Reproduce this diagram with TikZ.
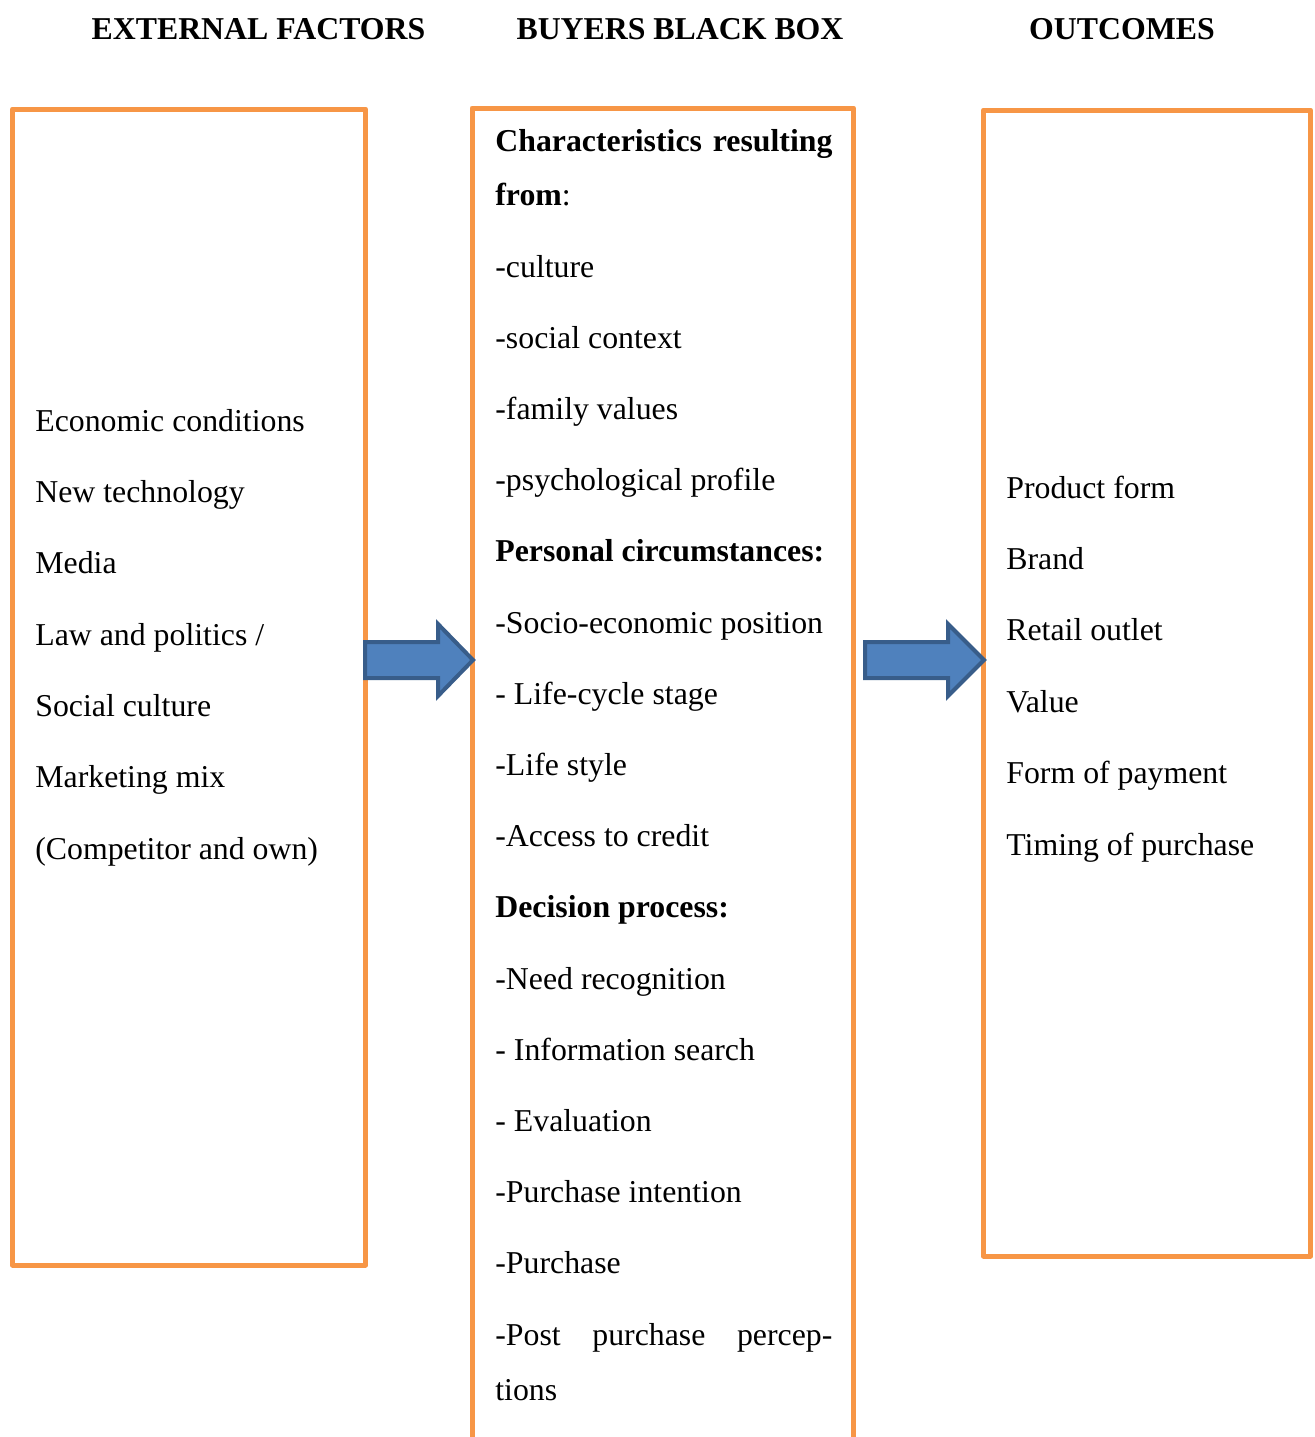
\documentclass[tikz,border=0pt]{standalone}
\usepackage{fontspec}
\setmainfont{Liberation Serif}
\definecolor{boxorange}{HTML}{F79646}
\definecolor{arrowfill}{HTML}{4F81BD}
\definecolor{arrowline}{HTML}{385D8A}
\begin{document}
\begin{tikzpicture}[x=0.5pt,y=-0.5pt,
  frame/.style={draw=boxorange,line width=2.5pt,line join=round},
  blockarrow/.style={fill=arrowfill,draw=arrowline,line width=2pt,line join=miter},
  txt/.style={anchor=base west,inner sep=0pt,font=\fontsize{15.9}{19}\selectfont},
  hdr/.style={anchor=base,inner sep=0pt,font=\fontsize{15.9}{19}\selectfont\bfseries}]
\useasboundingbox (0,0) rectangle (1315,1437);
% headers
\node[hdr] (h1) at (258.5,39) {EXTERNAL FACTORS};
\node[hdr] (h2) at (680,39) {BUYERS BLACK BOX};
\node[hdr] (h3) at (1122,39) {OUTCOMES};
% boxes
\draw[frame] (12.5,109) rectangle (365.5,1265);
\draw[frame] (472,1445) -- (472,108) -- (853.5,108) -- (853.5,1445);
\draw[frame] (983.5,110) rectangle (1310.5,1256);
% arrows
\draw[blockarrow] (365,642) -- (438,642) -- (438,624) -- (473,660) -- (438,696) -- (438,678) -- (365,678) -- cycle;
\draw[blockarrow] (865,642) -- (948,642) -- (948,624) -- (984,660) -- (948,696) -- (948,678) -- (865,678) -- cycle;
% left texts
\node[txt] (l1) at (35,431) {Economic conditions};
\node[txt] (l2) at (35,502.3) {New technology};
\node[txt] (l3) at (35,573.7) {Media};
\node[txt] (l4) at (35,645) {Law and politics /};
\node[txt] (l5) at (35,716.3) {Social culture};
\node[txt] (l6) at (35,787.7) {Marketing mix};
\node[txt] (l7) at (35,859) {(Competitor and own)};
% middle texts
\node[txt] (m1) at (495,151) {\hbox to 168.5pt{\bfseries Characteristics\hfill resulting}};
\node[txt] (m2) at (495,205) {\textbf{from}:};
\node[txt] (m3) at (495,277) {-culture};
\node[txt] (m4) at (495,348.2) {-social context};
\node[txt] (m5) at (495,419.4) {-family values};
\node[txt] (m6) at (495,490.6) {-psychological profile};
\node[txt] (m7) at (495,561.8) {\bfseries Personal circumstances:};
\node[txt] (m8) at (495,633) {-Socio-economic position};
\node[txt] (m9) at (495,704.2) {- Life-cycle stage};
\node[txt] (m10) at (495,775.4) {-Life style};
\node[txt] (m11) at (495,846.6) {-Access to credit};
\node[txt] (m12) at (495,917.8) {\bfseries Decision process:};
\node[txt] (m13) at (495,989) {-Need recognition};
\node[txt] (m14) at (495,1060.2) {- Information search};
\node[txt] (m15) at (495,1131.4) {- Evaluation};
\node[txt] (m16) at (495,1202.6) {-Purchase intention};
\node[txt] (m17) at (495,1273.8) {-Purchase};
\node[txt] (m18) at (495,1345) {\hbox to 168.5pt{-Post\hfill purchase\hfill percep-}};
\node[txt] (m19) at (495,1400) {tions};
% right texts
\node[txt] (r1) at (1006,498) {Product form};
\node[txt] (r2) at (1006,569.4) {Brand};
\node[txt] (r3) at (1006,640.8) {Retail outlet};
\node[txt] (r4) at (1006,712.2) {Value};
\node[txt] (r5) at (1006,783.6) {Form of payment};
\node[txt] (r6) at (1006,855) {Timing of purchase};
\end{tikzpicture}
\end{document}
